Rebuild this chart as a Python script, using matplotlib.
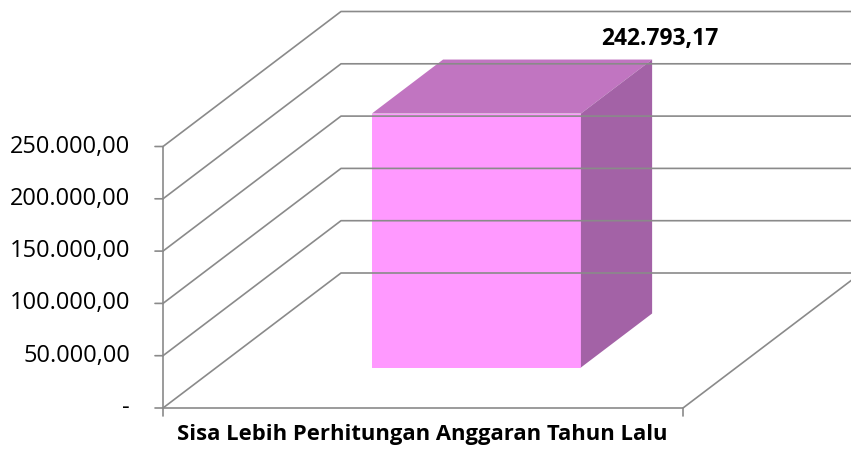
import matplotlib.pyplot as plt
from matplotlib.patches import Polygon

# data
categories = ['Sisa Lebih Perhitungan Anggaran Tahun Lalu']
values = [242793.17]
value_labels = ['242.793,17']
ticks = [0, 50000, 100000, 150000, 200000, 250000]
tick_labels = ['-', '50.000,00', '100.000,00', '150.000,00', '200.000,00', '250.000,00']

plt.rcParams['font.family'] = ['Open Sans', 'DejaVu Sans']

W, H = 851, 455
fig = plt.figure(figsize=(W / 100, H / 100), dpi=100)
ax = fig.add_axes([0, 0, 1, 1])
ax.axis('off')

# layout of the fake 3d box (pixels)
x0, y0 = 163, 408           # front-left-bottom corner
cat_px = 520                # width of floor per category
val_px = 52.3 / 50000       # pixels per value unit
ddx, ddy = 178, 135         # depth offset in pixels

ax.set_xlim(-x0 / cat_px, (W - x0) / cat_px)
ax.set_ylim(-(H - y0) / val_px, y0 / val_px)
DX = ddx / cat_px
DY = ddy / val_px


def proj(x, y, z):
    return x + z * DX, y + z * DY


grid = '#8a8a8a'
n = len(categories)

# walls / gridlines
for v, tl in zip(ticks, tick_labels):
    a = proj(0, v, 0)
    b = proj(0, v, 1)
    c = proj(n + 1, v, 1)
    ax.plot([a[0], b[0], c[0]], [a[1], b[1], c[1]], color=grid, lw=1.2)
    # tick mark on the left
    ax.annotate('', xy=a, xytext=(-8, 0), textcoords='offset pixels',
                arrowprops=dict(arrowstyle='-', color=grid, lw=1.2,
                                shrinkA=0, shrinkB=0))
    ax.annotate(tl, xy=a, xytext=(-33, 0),
                textcoords='offset pixels', ha='right', va='center',
                fontsize=17, color='black')

# left axis
ax.plot([0, 0], [0, ticks[-1]], color=grid, lw=1.2)

# floor
a = proj(0, 0, 0)
b = proj(n, 0, 0)
c = proj(n, 0, 1)
ax.plot([a[0], b[0], c[0]], [a[1], b[1], c[1]], color=grid, lw=1.2)
for xx in range(n + 1):
    p = proj(xx, 0, 0)
    ax.annotate('', xy=p, xytext=(0, -8), textcoords='offset pixels',
                arrowprops=dict(arrowstyle='-', color=grid, lw=1.2,
                                shrinkA=0, shrinkB=0))

# bars
bw = 0.402
z0, z1 = 0.3, 0.7
for i, (cat, val, lab) in enumerate(zip(categories, values, value_labels)):
    l, r = i + 0.5 - bw / 2, i + 0.5 + bw / 2
    front = [proj(l, 0, z0), proj(r, 0, z0), proj(r, val, z0), proj(l, val, z0)]
    top = [proj(l, val, z0), proj(r, val, z0), proj(r, val, z1), proj(l, val, z1)]
    side = [proj(r, 0, z0), proj(r, 0, z1), proj(r, val, z1), proj(r, val, z0)]
    ax.add_patch(Polygon(front, closed=True, facecolor='#ff99ff', edgecolor='none'))
    ax.add_patch(Polygon(top, closed=True, facecolor='#c175c1', edgecolor='none'))
    ax.add_patch(Polygon(side, closed=True, facecolor='#a362a6', edgecolor='none'))
    ax.annotate(lab, xy=proj(i + 0.5, val, z1), xytext=(112, 21),
                textcoords='offset pixels', ha='center', va='center',
                fontsize=16.5, fontweight='bold', color='black')
    ax.annotate(cat, xy=proj(i + 0.5, 0, 0), xytext=(-1, -32),
                textcoords='offset pixels', ha='center', va='baseline',
                fontsize=15.8, fontweight='bold', color='black')

fig.savefig('out.png', dpi=100)
